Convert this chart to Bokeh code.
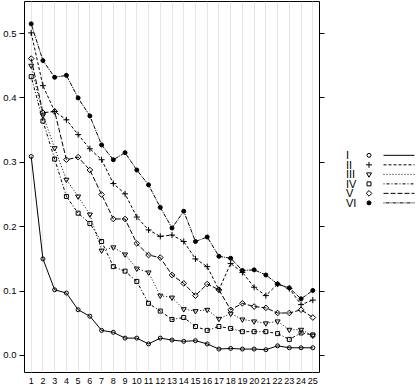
import math
from bokeh.plotting import figure
from bokeh.models import Range1d, FixedTicker, LinearAxis, PrintfTickFormatter
from bokeh.layouts import row
from bokeh.core.properties import value
from bokeh.embed import file_html
from bokeh.resources import INLINE

x = [1, 2, 3, 4, 5, 6, 7, 8, 9, 10, 11, 12, 13, 14, 15, 16, 17, 18, 19, 20, 21, 22, 23, 24, 25]
x_labels = [str(v) for v in x]
y_ticks = [0.0, 0.1, 0.2, 0.3, 0.4, 0.5]

s_I = [0.309, 0.150, 0.102, 0.097, 0.071, 0.061, 0.039, 0.036, 0.027, 0.027, 0.018, 0.027, 0.024,
       0.022, 0.023, 0.018, 0.010, 0.011, 0.010, 0.010, 0.009, 0.015, 0.012, 0.012, 0.012]
s_II = [0.501, 0.419, 0.379, 0.366, 0.343, 0.321, 0.304, 0.267, 0.251, 0.215, 0.195, 0.185, 0.187,
        0.177, 0.150, 0.138, 0.102, 0.143, 0.129, 0.106, 0.093, 0.111, 0.104, 0.079, 0.086]
s_III = [0.450, 0.373, 0.322, 0.273, 0.247, 0.219, 0.163, 0.168, 0.157, 0.135, 0.129, 0.093, 0.090,
         0.072, 0.069, 0.071, 0.057, 0.065, 0.056, 0.053, 0.050, 0.053, 0.040, 0.040, 0.031]
s_IV = [0.433, 0.364, 0.305, 0.247, 0.221, 0.205, 0.177, 0.138, 0.131, 0.115, 0.081, 0.069, 0.056,
        0.059, 0.045, 0.039, 0.045, 0.042, 0.037, 0.037, 0.037, 0.034, 0.025, 0.035, 0.032]
s_V = [0.461, 0.377, 0.379, 0.304, 0.308, 0.288, 0.250, 0.212, 0.212, 0.174, 0.156, 0.152, 0.125,
       0.112, 0.093, 0.111, 0.102, 0.071, 0.081, 0.076, 0.074, 0.066, 0.066, 0.071, 0.059]
s_VI = [0.515, 0.458, 0.432, 0.435, 0.400, 0.372, 0.327, 0.304, 0.315, 0.288, 0.265, 0.230, 0.198,
        0.224, 0.177, 0.184, 0.154, 0.151, 0.132, 0.133, 0.125, 0.111, 0.105, 0.088, 0.101]

names = ["I", "II", "III", "IV", "V", "VI"]
series = [s_I, s_II, s_III, s_IV, s_V, s_VI]
markers = ["circle", "cross", "inverted_triangle", "square", "square", "circle"]
angles = [0, 0, 0, 0, math.pi / 4, 0]
fills = [None, None, None, None, None, "black"]
sizes = [4, 6, 5, 4, 4, 4]
dashes = ["solid", "3 2", "1 2", "1 2 3 2", "5 2", "1 1 4 1"]

FONT = value("Liberation Sans")

p = figure(width=330, height=390, x_range=Range1d(0.43, 25.57), y_range=Range1d(-0.0264, 0.5497),
           output_backend="svg", toolbar_location=None,
           min_border_left=24, min_border_right=11, min_border_top=1, min_border_bottom=18)
p.background_fill_color = "white"
p.border_fill_color = "white"
p.outline_line_color = "black"
p.outline_line_width = 1

p.xgrid.ticker = FixedTicker(ticks=x)
p.xgrid.grid_line_color = "#e6e6e6"
p.ygrid.grid_line_color = None

xa = p.xaxis[0]
xa.ticker = FixedTicker(ticks=x)
xa.major_label_overrides = {v: l for v, l in zip(x, x_labels)}
xa.major_tick_out = 0
xa.major_tick_in = 0
xa.minor_tick_out = 0
xa.minor_tick_in = 0
xa.axis_line_color = None
xa.major_label_standoff = 5
xa.major_label_text_font_size = "9px"
xa.major_label_text_font = "Liberation Sans"
xa.major_label_text_color = "black"

ya = p.yaxis[0]
ya.ticker = FixedTicker(ticks=y_ticks)
ya.formatter = PrintfTickFormatter(format="%.1f")
ya.major_tick_out = 5
ya.major_tick_in = 0
ya.minor_tick_out = 0
ya.minor_tick_in = 0
ya.axis_line_color = None
ya.major_tick_line_color = "black"
ya.major_label_standoff = 3
ya.major_label_text_font_size = "9.5px"
ya.major_label_text_font = "Liberation Sans"
ya.major_label_text_color = "black"

ra = LinearAxis(ticker=FixedTicker(ticks=y_ticks))
ra.major_label_overrides = {t: "" for t in y_ticks}
ra.major_tick_out = 5
ra.major_tick_in = 0
ra.minor_tick_out = 0
ra.minor_tick_in = 0
ra.axis_line_color = None
ra.major_label_standoff = 0
ra.major_label_text_font_size = "1px"
p.add_layout(ra, "right")

for s, m, a, f, sz, d in zip(series, markers, angles, fills, sizes, dashes):
    p.line(x, s, line_color="black", line_width=1, line_dash=d)
    p.scatter(x, s, marker=m, angle=a, size=sz, line_color="black", line_width=1,
              fill_color=f if f else "white", fill_alpha=1.0 if f else 0.0)

# legend panel
leg = figure(width=90, height=390, x_range=Range1d(330, 420), y_range=Range1d(390, 0),
             output_backend="svg", toolbar_location=None, x_axis_type=None, y_axis_type=None,
             min_border=0)
leg.outline_line_color = None
leg.xgrid.visible = False
leg.ygrid.visible = False
leg_top = 161.7
row_h = 10.0
rows = [leg_top + i * row_h for i in range(len(names))]
leg.text(x=[345.5] * len(names), y=rows, text=names, text_baseline="middle", text_align="left",
         text_font=FONT, text_font_size="11px", text_color="black")
for yy, m, a, f, sz, d in zip(rows, markers, angles, fills, sizes, dashes):
    leg.scatter([368.5], [yy], marker=m, angle=a, size=sz, line_color="black", line_width=1,
                fill_color=f if f else "white", fill_alpha=1.0 if f else 0.0)
    leg.segment(x0=[383], y0=[yy], x1=[414], y1=[yy], line_color="black", line_width=1, line_dash=d)

layout = row(p, leg)
open("out.html", "w").write(file_html(layout, INLINE))
